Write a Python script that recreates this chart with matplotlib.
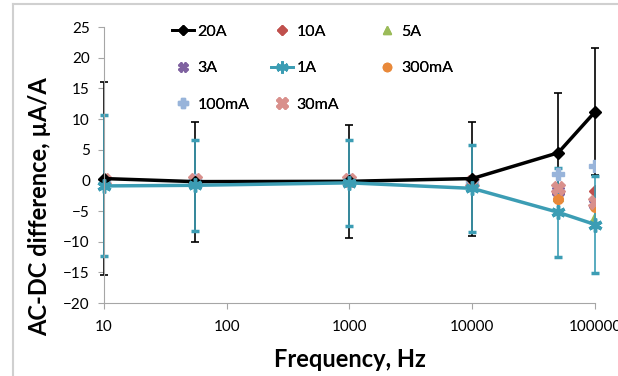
import numpy as np
import matplotlib.pyplot as plt
from matplotlib.lines import Line2D

plt.rcParams['font.family'] = ['Lato', 'DejaVu Sans']

# frequencies, Hz
freq = [10, 55, 1000, 10000, 50000, 100000]

# AC-DC difference, uA/A
i20A = [0.3, -0.2, -0.15, 0.3, 4.5, 11.2]
err20A = [15.7, 9.8, 9.2, 9.3, 9.7, 10.4]
i10A = [0.0, 0.0, 0.0, -0.3, -2.0, -1.7]
i5A = [0.0, 0.0, 0.0, -0.3, -2.5, -6.0]
i3A = [-0.1, -0.1, -0.1, -0.4, -1.8, -3.8]
i1A = [-0.9, -0.8, -0.4, -1.3, -5.2, -7.2]
err1A = [11.5, 7.4, 7.0, 7.1, 7.3, 7.9]
i300mA = [-0.2, -0.2, -0.1, -0.4, -3.0, -4.3]
i100mA = [0.1, 0.1, 0.0, -0.2, 1.0, 2.3]
i30mA = [0.0, 0.0, 0.0, -0.3, -1.3, -3.6]

fig = plt.figure(figsize=(6.18, 3.76), dpi=100)
ax = fig.add_axes([0.168, 0.194, 0.795, 0.734])

teal = '#3C9DB4'

# series styles: label -> (marker, size, colour, line)
st = {
    '20A': ('D', 6, 'black', True),
    '10A': ('D', 6, '#C0504D', False),
    '5A': ('^', 7, '#9BBB59', False),
    '3A': ('X', 8, '#7F62A0', False),
    '1A': ((6, 2, 0), 10, teal, True),
    '300mA': ('o', 7, '#E9893A', False),
    '100mA': ('P', 8, '#98B4DA', False),
    '30mA': ('X', 10, '#D9908C', False),
}

e20 = ax.errorbar(freq, i20A, yerr=err20A, color='black', lw=2.5,
                  marker='D', ms=6, ecolor='black', elinewidth=1.2,
                  capsize=3, capthick=1.2)
ax.plot(freq, i10A, ls='none', marker='D', ms=6, color=st['10A'][2])
ax.plot(freq, i5A, ls='none', marker='^', ms=7, color=st['5A'][2])
ax.plot(freq, i3A, ls='none', marker='X', ms=8, color=st['3A'][2])
e1 = ax.errorbar(freq, i1A, yerr=err1A, color=teal, lw=2.5,
                 marker=(6, 2, 0), ms=10, mew=2.5, ecolor=teal,
                 elinewidth=1.2, capsize=3, capthick=1.2)
ax.plot(freq, i300mA, ls='none', marker='o', ms=7, color=st['300mA'][2])
ax.plot(freq, i100mA, ls='none', marker='P', ms=8, color=st['100mA'][2])
ax.plot(freq, i30mA, ls='none', marker='X', ms=10, color=st['30mA'][2])

# error bars at the plot edges should not be cut off
for cont in (e20, e1):
    for art in cont.get_children():
        art.set_clip_on(False)

ax.set_xscale('log')
ax.set_xlim(10, 100000)
ax.set_ylim(-20, 25)
ax.set_yticks(np.arange(-20, 26, 5))
ax.set_xticks([10, 100, 1000, 10000, 100000])
ax.set_xticklabels(['10', '100', '1000', '10000', '100000'])
ax.xaxis.set_minor_locator(plt.NullLocator())

for side in ['top', 'right']:
    ax.spines[side].set_visible(False)
for side in ['left', 'bottom']:
    ax.spines[side].set_color('#A6A6A6')
ax.tick_params(axis='both', colors='#A6A6A6', labelcolor='black', labelsize=11,
               length=4)
ax.tick_params(axis='x', pad=8)
ax.tick_params(axis='y', pad=6)

ax.set_xlabel('Frequency, Hz', fontsize=17, fontweight='bold', labelpad=10)
ax.set_ylabel('AC-DC difference, µA/A', fontsize=17, fontweight='bold')
ax.yaxis.set_label_coords(-0.108, 0.35)

# legend: three columns, each its own legend so the spacing follows the original
columns = [['20A', '3A', '100mA'], ['10A', '1A', '30mA'], ['5A', '300mA']]
col_x = [158, 257, 362]
for names, x in zip(columns, col_x):
    handles = []
    for name in names:
        mk, ms, c, line = st[name]
        mew = 2 if name == '1A' else 1
        handles.append(Line2D([], [], color=c, marker=mk, ms=ms * 0.85, mew=mew,
                              ls='-' if line else 'none', lw=2))
    leg = fig.legend(handles, names, loc='upper left',
                     bbox_to_anchor=(x / 618, 0.973), frameon=False,
                     fontsize=11.5, handlelength=1.38, handletextpad=0.2,
                     labelspacing=1.4)
    fig.add_artist(leg)

# light grey frame of the chart area
fig.add_artist(Line2D([13 / 618, 13 / 618], [0, 1 - 4 / 376], color='#D0D0D0', lw=1.5))
fig.add_artist(Line2D([13 / 618, 1], [1 - 4 / 376, 1 - 4 / 376], color='#D0D0D0', lw=1.5))

plt.savefig('out.png', dpi=100)
